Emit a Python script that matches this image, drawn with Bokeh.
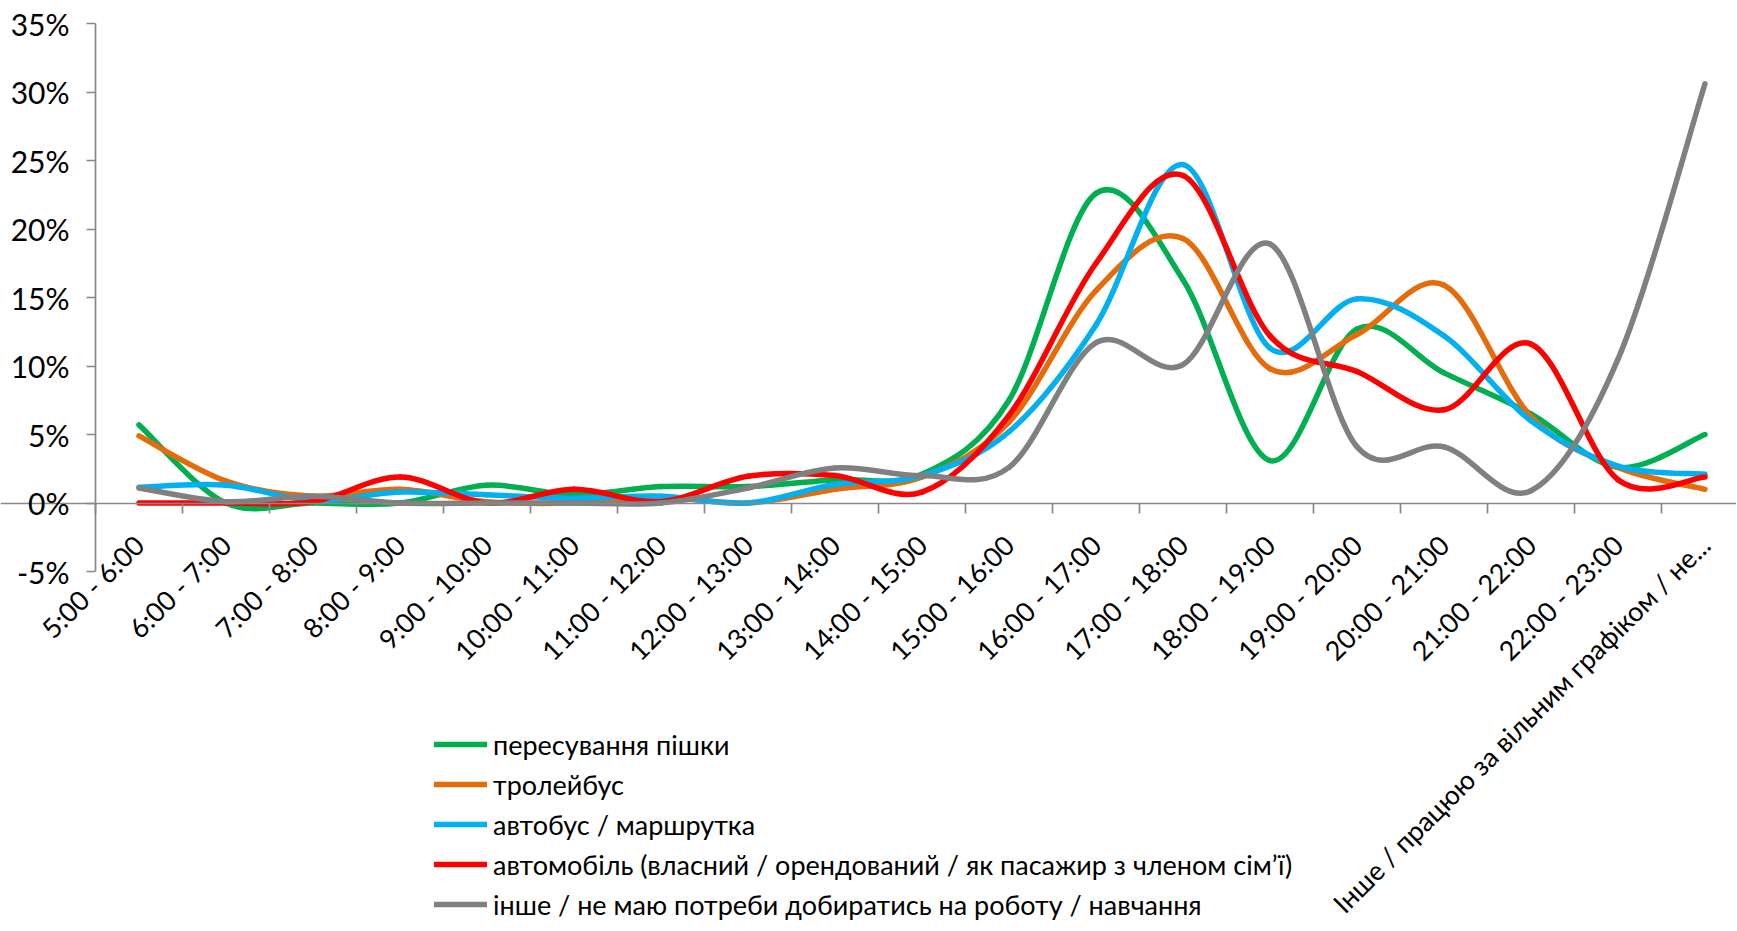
import math
from bokeh.plotting import figure
from bokeh.models import (LinearAxis, FixedTicker, PrintfTickFormatter, Range1d,
                          Legend, LegendItem, ColumnDataSource)
from bokeh.embed import file_html
from bokeh.resources import INLINE

# ---- data (percent) ----
categories = ["5:00 - 6:00", "6:00 - 7:00", "7:00 - 8:00", "8:00 - 9:00", "9:00 - 10:00",
              "10:00 - 11:00", "11:00 - 12:00", "12:00 - 13:00", "13:00 - 14:00",
              "14:00 - 15:00", "15:00 - 16:00", "16:00 - 17:00", "17:00 - 18:00",
              "18:00 - 19:00", "19:00 - 20:00", "20:00 - 21:00", "21:00 - 22:00",
              "22:00 - 23:00", "Інше / працюю за вільним графіком / не..."]

walk = [5.7, 0.0, 0.0, 0.0, 1.3, 0.6, 1.2, 1.2, 1.7, 2.1, 7.5, 22.6, 16.3, 3.1, 12.7, 9.5, 6.5, 2.6, 5.0]
trolleybus = [4.9, 1.6, 0.5, 1.0, 0.1, 0.0, 0.4, 0.0, 1.0, 1.9, 5.9, 15.5, 19.3, 9.8, 12.3, 15.9, 6.3, 2.6, 1.0]
bus = [1.15, 1.3, 0.2, 0.8, 0.6, 0.35, 0.5, 0.0, 1.35, 2.0, 5.2, 13.0, 24.7, 11.3, 14.9, 12.2, 6.0, 2.7, 2.1]
car = [0.0, 0.0, 0.1, 1.9, 0.0, 1.0, 0.1, 1.95, 2.0, 0.8, 6.4, 17.5, 23.9, 12.2, 9.6, 6.8, 11.6, 1.7, 1.9]
other = [1.1, 0.1, 0.5, 0.0, 0.0, 0.0, 0.0, 1.1, 2.55, 2.0, 2.6, 11.7, 10.1, 18.9, 4.1, 4.1, 0.9, 10.5, 30.6]

series_names = ["пересування пішки", "тролейбус", "автобус / маршрутка",
                "автомобіль (власний / орендований / як пасажир з членом сім’ї)",
                "інше / не маю потреби добиратись на роботу / навчання"]
series_values = [walk, trolleybus, bus, car, other]
series_colors = ["#00B050", "#E46C0A", "#00B0F0", "#FF0000", "#808080"]

y_ticks = [-5, 0, 5, 10, 15, 20, 25, 30, 35]

FONT = "Lato"

W, H = 1736, 930
AX_X, AX_TOP = 95, 23          # pixel position of the y axis and of the 35% tick
CAT_W = 87.0                   # pixels per category
PX_PER_PCT = 13.7              # pixels per percent

x_start = -0.5 - AX_X / CAT_W
x_end = -0.5 + (W - AX_X) / CAT_W
y_end = 35 + AX_TOP / PX_PER_PCT
y_start = 35 - (H - AX_TOP) / PX_PER_PCT

p = figure(width=W, height=H, output_backend="svg", toolbar_location=None,
           x_range=Range1d(x_start, x_end), y_range=Range1d(y_start, y_end),
           x_axis_location=None, y_axis_location=None,
           min_border_left=0, min_border_right=0, min_border_top=0,
           min_border_bottom=0)
p.outline_line_color = None
p.xgrid.visible = False
p.ygrid.visible = False
p.background_fill_color = "white"
p.border_fill_color = "white"


def smooth_segments(vals):
    n = len(vals)
    xs = list(range(n))
    def P(k):
        k = min(max(k, 0), n - 1)
        return xs[k], vals[k]
    d = dict(x0=[], y0=[], x1=[], y1=[], cx0=[], cy0=[], cx1=[], cy1=[])
    for i in range(n - 1):
        xa, ya = P(i)
        xb, yb = P(i + 1)
        xp, yp = P(i - 1)
        xn, yn = P(i + 2)
        d["x0"].append(xa); d["y0"].append(ya)
        d["x1"].append(xb); d["y1"].append(yb)
        d["cx0"].append(xa + (xb - xp) / 6.0); d["cy0"].append(ya + (yb - yp) / 6.0)
        d["cx1"].append(xb - (xn - xa) / 6.0); d["cy1"].append(yb - (yn - ya) / 6.0)
    return ColumnDataSource(d)


renderers = []
for vals, col in zip(series_values, series_colors):
    r = p.bezier(x0="x0", y0="y0", x1="x1", y1="y1", cx0="cx0", cy0="cy0",
                 cx1="cx1", cy1="cy1", source=smooth_segments(vals),
                 line_color=col, line_width=5.5, line_cap="round", line_join="round")
    renderers.append(r)

AXIS_COLOR = "#888888"

# y axis
yax = LinearAxis(fixed_location=-0.5, bounds=(-5, 35),
                 ticker=FixedTicker(ticks=y_ticks, minor_ticks=[]),
                 formatter=PrintfTickFormatter(format="%d%%"))
yax.axis_line_color = AXIS_COLOR
yax.axis_line_width = 1.7
yax.major_tick_line_color = AXIS_COLOR
yax.major_tick_line_width = 1.7
yax.major_tick_out = 9
yax.major_tick_in = 0
yax.minor_tick_out = 0
yax.major_label_standoff = 17
yax.major_label_text_font = FONT
yax.major_label_text_font_size = "30px"
yax.major_label_text_color = "black"
p.add_layout(yax, "left")

# x axis (category labels at centers, tick marks at boundaries)
xax = LinearAxis(fixed_location=0,
                 ticker=FixedTicker(ticks=list(range(len(categories))),
                                    minor_ticks=[k - 0.5 for k in range(len(categories) + 1)]))
xax.major_label_overrides = {i: c for i, c in enumerate(categories)}
xax.major_label_orientation = math.pi / 4
xax.axis_line_color = AXIS_COLOR
xax.axis_line_width = 1.7
xax.major_tick_out = 0
xax.major_tick_in = 0
xax.minor_tick_out = 10
xax.minor_tick_in = 0
xax.minor_tick_line_color = AXIS_COLOR
xax.minor_tick_line_width = 1.7
xax.major_label_standoff = 27
xax.major_label_text_font = FONT
xax.major_label_text_font_size = "27px"
xax.major_label_text_color = "black"
p.add_layout(xax, "below")

legend = Legend(items=[LegendItem(label=n, renderers=[r]) for n, r in zip(series_names, renderers)],
                location=(434, 6), orientation="vertical",
                background_fill_alpha=0, border_line_alpha=0, padding=0, margin=0,
                spacing=0, glyph_width=53, glyph_height=40, label_height=40,
                label_standoff=6, label_text_font=FONT, label_text_font_size="27px",
                label_text_color="black")
p.add_layout(legend)

open("out.html", "w").write(file_html(p, INLINE))
